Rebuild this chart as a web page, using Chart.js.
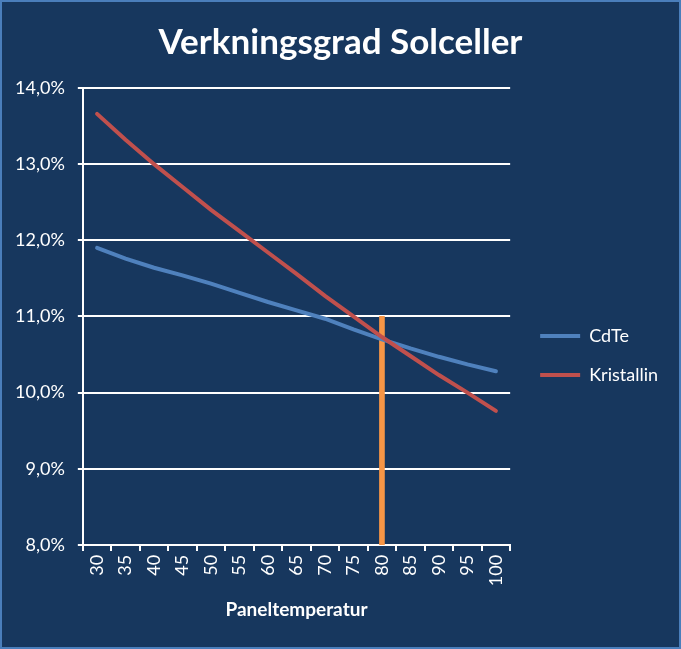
<!DOCTYPE html>
<html>
<head>
<meta charset="utf-8">
<script src="https://cdn.jsdelivr.net/npm/chart.js@4"></script>
<style>
  html, body { margin: 0; padding: 0; background: #17375e; }
  #frame {
    width: 681px;
    height: 649px;
    box-sizing: border-box;
    border: 2px solid #4a7ebb;
    background: #17375e;
  }
  #wrap { position: relative; width: 677px; height: 645px; }
</style>
</head>
<body>
<div id="frame"><div id="wrap"><canvas id="effChart"></canvas></div></div>
<script>
// ===============================
// Data
// ===============================
const temperatures = ["30", "35", "40", "45", "50", "55", "60", "65", "70", "75", "80", "85", "90", "95", "100"];

const cdte = [11.9, 11.76, 11.64, 11.54, 11.43, 11.31, 11.19, 11.08, 10.97, 10.83, 10.7, 10.58, 10.47, 10.37, 10.28];

const kristallin = [13.66, 13.32, 13.0, 12.7, 12.4, 12.12, 11.84, 11.56, 11.27, 11.0, 10.73, 10.48, 10.23, 10.0, 9.76];

// vertical marker at 80 degrees, from 8% to 11%
const markering = [null, null, null, null, null, null, null, null, null, null, [8, 11], null, null, null, null];

const yTicks = [8, 9, 10, 11, 12, 13, 14];

const FONT = "Lato, 'Open Sans', sans-serif";

// nudge legend away from the plot, keep title centred on the whole canvas
const layoutNudge = {
  id: "layoutNudge",
  afterLayout(chart) {
    chart.legend.left += 9;
    chart.legend.right += 9;
    chart.titleBlock.left += 10;
    chart.titleBlock.right += 10;
  },
};

document.addEventListener("DOMContentLoaded", () => {
  const canvas = document.getElementById("effChart");

  new Chart(canvas, {
    type: "bar",

    data: {
      labels: temperatures,

      datasets: [
        {
          type: "line",
          label: "CdTe",
          data: cdte,
          borderColor: "#4f81bd",
          backgroundColor: "#4f81bd",
          borderWidth: 4,
          borderCapStyle: "round",
          pointRadius: 0,
          tension: 0,
          order: 2,
        },
        {
          type: "line",
          label: "Kristallin",
          data: kristallin,
          borderColor: "#c0504d",
          backgroundColor: "#c0504d",
          borderWidth: 4,
          borderCapStyle: "round",
          pointRadius: 0,
          tension: 0,
          order: 1,
        },
        {
          label: "Markering",
          data: markering,
          backgroundColor: "#f79646",
          barThickness: 5,
          order: 3,
        },
      ],
    },

    plugins: [layoutNudge],

    options: {
      responsive: true,
      maintainAspectRatio: false,
      animation: false,

      layout: {
        padding: { top: 10, left: 0, right: 20, bottom: 22 },
      },

      plugins: {
        title: {
          display: true,
          text: "Verkningsgrad Solceller",
          color: "#ffffff",
          font: { family: FONT, size: 35, weight: "bold" },
          padding: { top: 10, bottom: 24 },
        },

        legend: {
          position: "right",
          // empty title only pushes the items down a bit
          title: {
            display: true,
            text: " ",
            color: "rgba(0,0,0,0)",
            font: { size: 10 },
            padding: { top: 62, bottom: 0 },
          },
          labels: {
            color: "#ffffff",
            font: { family: FONT, size: 18 },
            usePointStyle: true,
            pointStyle: "line",
            pointStyleWidth: 40,
            boxHeight: 14,
            padding: 21,
            sort: (a, b) => a.datasetIndex - b.datasetIndex,
            filter: (item) => item.text !== "Markering",
          },
        },

        tooltip: { enabled: false },
      },

      scales: {
        x: {
          offset: true,
          grid: {
            offset: true,
            drawOnChartArea: false,
            drawTicks: true,
            tickLength: 6,
            color: "#ffffff",
            lineWidth: 2,
          },
          border: { color: "#ffffff", width: 2 },
          ticks: {
            color: "#ffffff",
            font: { family: FONT, size: 18 },
            minRotation: 90,
            maxRotation: 90,
            padding: 4,
            autoSkip: false,
          },
          title: {
            display: true,
            text: "Paneltemperatur",
            color: "#ffffff",
            font: { family: FONT, size: 19, weight: "bold" },
            padding: { top: 8, bottom: 4 },
          },
        },

        y: {
          min: 8,
          max: 14,
          afterBuildTicks: (axis) => {
            axis.ticks = yTicks.map((v) => ({ value: v }));
          },
          grid: {
            color: "#ffffff",
            lineWidth: 2,
            tickLength: 5,
          },
          border: { color: "#ffffff", width: 2 },
          ticks: {
            color: "#ffffff",
            font: { family: FONT, size: 18 },
            padding: 13,
            callback: function (value) {
              return value.toFixed(1).replace(".", ",") + "%";
            },
          },
        },
      },
    },
  });
});
</script>
</body>
</html>
